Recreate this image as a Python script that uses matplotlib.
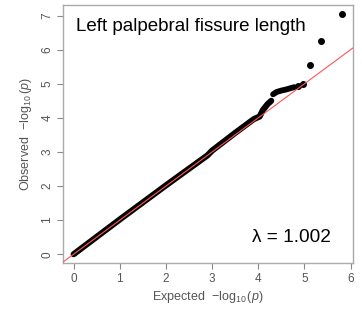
import matplotlib
matplotlib.use("Agg")
import matplotlib.pyplot as plt
import numpy as np

plt.rcParams['font.family'] = ['Liberation Sans', 'DejaVu Sans']
plt.rcParams['mathtext.fontset'] = 'custom'
plt.rcParams['mathtext.rm'] = 'Liberation Sans'
plt.rcParams['mathtext.it'] = 'Liberation Sans:italic'

# bulk of the QQ points (expected vs observed -log10 p)
bulk_exp = [0.0, 0.5, 1.0, 1.5, 2.0, 2.5, 2.9, 3.0, 3.5, 3.9, 4.03, 4.10, 4.20, 4.28]
bulk_obs = [0.0, 0.51, 1.02, 1.52, 2.02, 2.51, 2.90, 3.04, 3.56, 3.96, 4.04, 4.23, 4.40, 4.50]
# upper shelf
shelf_exp = [4.32, 4.40, 4.50, 4.60, 4.70, 4.78]
shelf_obs = [4.69, 4.76, 4.80, 4.83, 4.87, 4.90]
# isolated top hits
top_exp = [4.86, 4.97, 5.13, 5.35, 5.82]
top_obs = [4.93, 4.99, 5.55, 6.25, 7.05]

title = "Left palpebral fissure length"
lam_text = "λ = 1.002"

fig = plt.figure(figsize=(3.62, 3.11), dpi=100)
ax = fig.add_axes([0.174, 0.154, 0.801, 0.830])

ax.plot(bulk_exp, bulk_obs, color="black", lw=4.4, solid_capstyle="round")
ax.plot(shelf_exp, shelf_obs, color="black", lw=4.2, solid_capstyle="round")
ax.plot(top_exp, top_obs, "o", color="black", markersize=4)

ax.set_xlim(-0.23, 6.05)
ax.set_ylim(-0.26, 7.31)
ax.plot([-1, 8], [-1, 8], color="#ff5555", lw=0.8, zorder=5)

ax.set_xticks(range(0, 7))
ax.set_yticks(range(0, 8))
gray = "#555555"
ax.tick_params(axis="both", direction="out", length=4, width=0.8, color="#888888",
               labelsize=8.5, labelcolor=gray, pad=3)
for lbl in ax.get_yticklabels():
    lbl.set_rotation(90)
    lbl.set_va("center")
for s in ax.spines.values():
    s.set_color("#aaaaaa")
    s.set_linewidth(1.0)

ax.set_xlabel(r"Expected  $-\log_{10}(\mathit{p})$", fontsize=9, color=gray, labelpad=3)
ax.set_ylabel(r"Observed  $-\log_{10}(\mathit{p})$", fontsize=9, color=gray, labelpad=5)

ax.text(0.045, 0.900, title, transform=ax.transAxes, fontsize=13.5,
        color="black", va="baseline")
ax.text(0.652, 0.081, lam_text, transform=ax.transAxes, fontsize=13.7,
        color="black", va="baseline")

fig.savefig("out.png", dpi=100)
